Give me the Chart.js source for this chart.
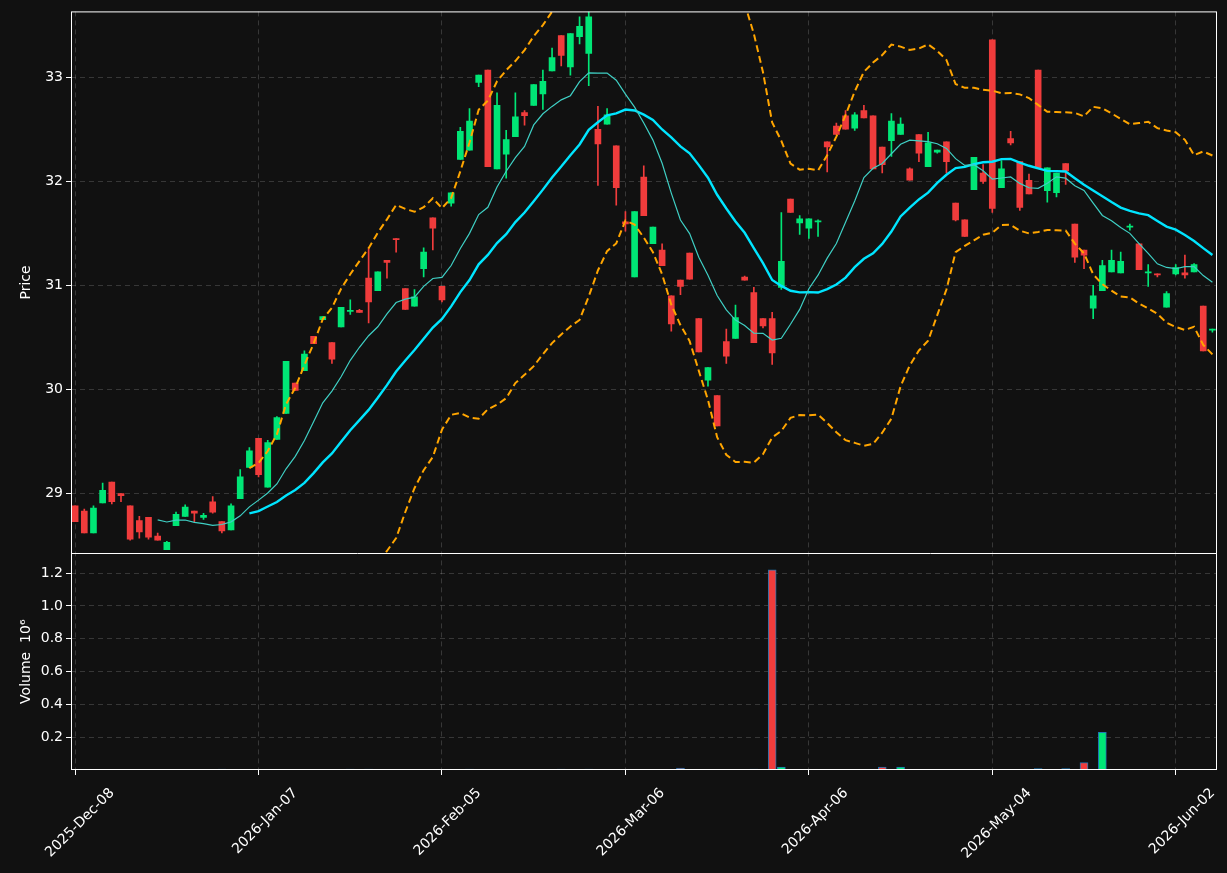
<!DOCTYPE html>
<html>
<head>
<meta charset="utf-8">
<script src="https://cdn.jsdelivr.net/npm/chart.js@4/dist/chart.umd.min.js"></script>
<style>
  html, body { margin: 0; padding: 0; background: #111111; }
  #wrap { width: 1227px; height: 873px; }
</style>
</head>
<body>
<div id="wrap"><canvas id="c" width="1227" height="873"></canvas></div>
<script>
// candle data, one entry per trading day
var opens = [28.88,28.83,28.62,28.91,29.11,29.00,28.88,28.74,28.77,28.59,
  28.46,28.69,28.78,28.83,28.77,28.92,28.73,28.65,28.95,29.25,
  29.53,29.06,29.52,29.77,30.06,30.18,30.51,30.67,30.45,30.60,
  30.75,30.76,31.07,30.95,31.24,31.45,30.97,30.80,31.16,31.65,
  30.99,31.79,32.21,32.30,32.95,33.07,32.12,32.26,32.43,32.66,
  32.73,32.84,33.06,33.40,33.10,33.39,33.23,32.50,32.55,32.34,
  31.61,31.08,32.04,31.40,31.34,30.90,31.05,31.31,30.68,30.09,
  29.94,30.46,30.49,31.08,30.93,30.68,30.68,30.98,31.83,31.60,
  31.55,31.61,32.38,32.53,32.63,32.51,32.68,32.63,32.33,32.39,
  32.45,32.12,32.45,32.14,32.28,32.38,31.79,31.63,31.92,32.08,
  33.36,31.94,32.41,32.19,32.01,33.07,31.91,31.89,32.17,31.59,
  31.34,30.78,30.95,31.13,31.12,31.56,31.40,31.12,31.11,30.79,
  31.11,31.12,31.13,30.80,30.57];
var highs = [28.88,28.85,28.88,29.10,29.11,29.00,28.88,28.78,28.77,28.62,
  28.54,28.82,28.89,28.83,28.81,28.97,28.73,28.90,29.23,29.44,
  29.53,29.51,29.74,30.27,30.06,30.37,30.51,30.70,30.45,30.79,
  30.86,30.77,31.35,31.13,31.24,31.45,30.97,30.96,31.36,31.65,
  30.99,31.89,32.52,32.70,33.02,33.07,32.85,32.49,32.85,32.68,
  32.93,33.07,33.28,33.40,33.42,33.58,33.70,32.72,32.70,32.34,
  31.71,31.71,32.15,31.56,31.40,30.90,31.05,31.31,30.68,30.21,
  29.94,30.58,30.81,31.09,30.98,30.68,30.74,31.70,31.83,31.67,
  31.64,31.63,32.38,32.56,32.68,32.66,32.73,32.63,32.33,32.65,
  32.61,32.13,32.45,32.47,32.30,32.38,31.79,31.63,32.23,32.16,
  33.36,32.20,32.48,32.19,32.07,33.07,32.13,32.08,32.17,31.59,
  31.34,31.00,31.24,31.34,31.32,31.59,31.40,31.20,31.11,30.94,
  31.20,31.29,31.21,30.80,30.58];
var lows = [28.73,28.62,28.62,28.91,28.90,28.92,28.55,28.57,28.56,28.55,
  28.46,28.69,28.78,28.73,28.75,28.81,28.62,28.65,28.95,29.25,
  29.16,29.06,29.52,29.77,29.99,30.18,30.44,30.67,30.25,30.60,
  30.72,30.74,30.64,30.95,31.07,31.32,30.77,30.80,31.08,31.34,
  30.84,31.76,32.21,32.30,32.91,32.14,32.12,32.03,32.43,32.54,
  32.73,32.69,33.06,33.11,33.02,33.32,32.92,31.96,32.55,31.77,
  31.52,31.08,31.67,31.40,31.19,30.56,30.91,31.06,30.36,30.03,
  29.65,30.25,30.49,31.05,30.45,30.59,30.24,30.96,31.70,31.49,
  31.45,31.47,32.09,32.45,32.50,32.49,32.61,32.12,32.08,32.24,
  32.45,32.01,32.19,32.14,32.27,32.08,31.62,31.47,31.92,31.98,
  31.70,31.94,32.35,31.72,31.88,32.13,31.80,31.85,31.97,31.22,
  31.16,30.68,30.95,31.13,31.12,31.53,31.15,30.99,31.08,30.79,
  31.10,31.07,31.13,30.37,30.55];
var closes = [28.73,28.62,28.86,29.03,28.92,28.98,28.56,28.63,28.58,28.55,
  28.53,28.80,28.87,28.81,28.79,28.82,28.64,28.88,29.16,29.41,
  29.18,29.49,29.73,30.27,29.99,30.34,30.44,30.70,30.29,30.79,
  30.76,30.74,30.84,31.13,31.22,31.44,30.77,30.89,31.32,31.55,
  30.86,31.89,32.48,32.58,33.02,32.14,32.73,32.40,32.62,32.63,
  32.93,32.96,33.19,33.21,33.42,33.49,33.58,32.36,32.64,31.94,
  31.59,31.71,31.67,31.56,31.19,30.63,30.99,31.06,30.36,30.21,
  29.65,30.32,30.69,31.05,30.45,30.61,30.35,31.23,31.70,31.64,
  31.64,31.62,32.33,32.45,32.50,32.64,32.61,32.12,32.16,32.58,
  32.55,32.01,32.27,32.37,32.30,32.19,31.63,31.47,32.23,32.00,
  31.74,32.12,32.37,31.75,31.88,32.13,32.13,32.08,32.10,31.27,
  31.29,30.90,31.19,31.24,31.23,31.57,31.15,31.13,31.10,30.92,
  31.17,31.10,31.20,30.37,30.58];
// volume in millions
var volumes = [0.002,0.002,0.002,0.002,0.002,0.002,0.002,0.002,0.002,0.002,
  0.002,0.002,0.002,0.002,0.002,0.002,0.005,0.002,0.002,0.002,
  0.002,0.002,0.002,0.002,0.002,0.002,0.002,0.002,0.002,0.002,
  0.005,0.002,0.005,0.002,0.002,0.002,0.002,0.002,0.002,0.002,
  0.002,0.002,0.002,0.005,0.002,0.002,0.002,0.002,0.002,0.002,
  0.002,0.002,0.002,0.005,0.002,0.002,0.005,0.002,0.002,0.002,
  0.002,0.002,0.002,0.002,0.002,0.002,0.012,0.002,0.002,0.002,
  0.002,0.002,0.002,0.002,0.005,0.002,1.22,0.018,0.002,0.002,
  0.002,0.002,0.002,0.002,0.002,0.002,0.002,0.002,0.018,0.002,
  0.018,0.002,0.002,0.002,0.002,0.002,0.002,0.002,0.002,0.002,
  0.002,0.002,0.002,0.002,0.002,0.008,0.002,0.002,0.008,0.002,
  0.045,0.002,0.23,0.002,0.002,0.002,0.002,0.002,0.002,0.002,
  0.002,0.002,0.002,0.002,0.002];
var tickIdx = [0,20,40,60,80,100,120];
var tickLabels = ['2025-Dec-08','2026-Jan-07','2026-Feb-05','2026-Mar-06','2026-Apr-06','2026-May-04','2026-Jun-02'];
var priceTicks = [29,30,31,32,33];
var volTicks = [0.2,0.4,0.6,0.8,1.0,1.2];

var UP = '#00e676', DOWN = '#f03c3c';

function sma(arr, n, i) {
  var s = 0;
  for (var k = i - n + 1; k <= i; k++) s += arr[k];
  return s / n;
}

var wicks = [], bodies = [], vols = [], colors = [], ma10 = [], ma20 = [], bbUp = [], bbLo = [];
for (var i = 0; i < closes.length; i++) {
  wicks.push({x: i, y: [lows[i], highs[i]]});
  bodies.push({x: i, y: [opens[i], closes[i]]});
  vols.push({x: i, y: volumes[i]});
  colors.push(closes[i] >= opens[i] ? UP : DOWN);
  if (i >= 9) ma10.push({x: i, y: sma(closes, 10, i)});
  if (i >= 19) {
    var m = sma(closes, 20, i), v = 0;
    for (var k = i - 19; k <= i; k++) v += (closes[k] - m) * (closes[k] - m);
    var sd = Math.sqrt(v / 20);
    ma20.push({x: i, y: m});
    bbUp.push({x: i, y: m + 2 * sd});
    bbLo.push({x: i, y: m - 2 * sd});
  }
}

// keep price datasets inside the price panel
var clipPlugin = {
  id: 'clipPanel',
  beforeDatasetDraw: function (chart, args) {
    var ds = chart.data.datasets[args.index];
    var sc = chart.scales[ds.yAxisID || 'y'];
    var a = chart.chartArea;
    chart.ctx.save();
    chart.ctx.beginPath();
    chart.ctx.rect(a.left, sc.top, a.right - a.left, sc.bottom - sc.top);
    chart.ctx.clip();
  },
  afterDatasetDraw: function (chart) { chart.ctx.restore(); }
};
var framePlugin = {
  id: 'frame',
  beforeDraw: function (chart) {
    var c = chart.ctx;
    c.save();
    c.fillStyle = '#111111';
    c.fillRect(0, 0, chart.width, chart.height);
    c.restore();
  },
  afterDraw: function (chart) {
    var c = chart.ctx, a = chart.chartArea, p = chart.scales.y;
    c.save();
    c.strokeStyle = '#ffffff';
    c.lineWidth = 1;
    c.strokeRect(a.left + 0.5, a.top + 0.5, a.right - a.left - 1, a.bottom - a.top - 1);
    c.beginPath();
    c.moveTo(a.left, Math.round(p.bottom) + 0.5);
    c.lineTo(a.right, Math.round(p.bottom) + 0.5);
    c.stroke();
    c.restore();
  }
};

function grid() {
  return {color: 'rgba(255,255,255,0.16)', lineWidth: 1, offset: false, drawTicks: true, tickColor: '#ffffff', tickLength: 5};
}
var border = {display: false, dash: [5, 4]};
var font = {family: 'DejaVu Sans', size: 14};

new Chart(document.getElementById('c'), {
  type: 'bar',
  data: {
    datasets: [
      {type: 'line', data: ma10, borderColor: '#3fcfc4', borderWidth: 1.2, pointRadius: 0, yAxisID: 'y'},
      {type: 'line', data: ma20, borderColor: '#00e5ff', borderWidth: 2.4, pointRadius: 0, yAxisID: 'y'},
      {type: 'line', data: bbUp, borderColor: '#ffa500', borderWidth: 2, borderDash: [7, 4], pointRadius: 0, yAxisID: 'y'},
      {type: 'line', data: bbLo, borderColor: '#ffa500', borderWidth: 2, borderDash: [7, 4], pointRadius: 0, yAxisID: 'y'},
      {data: wicks, backgroundColor: colors, barThickness: 1, grouped: false, yAxisID: 'y'},
      {data: bodies, backgroundColor: colors, barThickness: 6, grouped: false, yAxisID: 'y'},
      {data: vols, backgroundColor: colors, borderColor: '#1f77b4', borderWidth: 1, barThickness: 8, grouped: false, yAxisID: 'yv'}
    ]
  },
  options: {
    responsive: false,
    animation: false,
    layout: {padding: {top: 10, right: 10, left: 18, bottom: 0}},
    plugins: {legend: {display: false}, tooltip: {enabled: false}},
    scales: {
      x: {
        type: 'linear', min: -0.45, max: 124.5, offset: false,
        grid: grid(), border: border,
        afterBuildTicks: function (s) { s.ticks = tickIdx.map(function (v) { return {value: v}; }); },
        afterFit: function (s) { s.height = 103; },
        ticks: {color: '#ffffff', font: font, maxRotation: 45, minRotation: 45, autoSkip: false,
          labelOffset: 37, padding: 10,
          callback: function (v) { var j = tickIdx.indexOf(v); return j >= 0 ? tickLabels[j] : ''; }}
      },
      yv: {
        type: 'linear', position: 'left', stack: 'panels', stackWeight: 217,
        min: 0, max: 1.32,
        grid: grid(), border: border,
        afterBuildTicks: function (s) { s.ticks = volTicks.map(function (v) { return {value: v}; }); },
        afterFit: function (s) { s.width = 53; },
        title: {display: true, text: 'Volume  10\u2076', color: '#ffffff', font: font, padding: 0},
        ticks: {color: '#ffffff', font: font, callback: function (v) { return v.toFixed(1); }}
      },
      y: {
        type: 'linear', position: 'left', stack: 'panels', stackWeight: 543,
        min: 28.424, max: 33.633,
        grid: grid(), border: border,
        afterBuildTicks: function (s) { s.ticks = priceTicks.map(function (v) { return {value: v}; }); },
        afterFit: function (s) { s.width = 53; },
        title: {display: true, text: 'Price', color: '#ffffff', font: font, padding: 0},
        ticks: {color: '#ffffff', font: font, callback: function (v) { return String(v); }}
      }
    }
  },
  plugins: [clipPlugin, framePlugin]
});
</script>
</body>
</html>
